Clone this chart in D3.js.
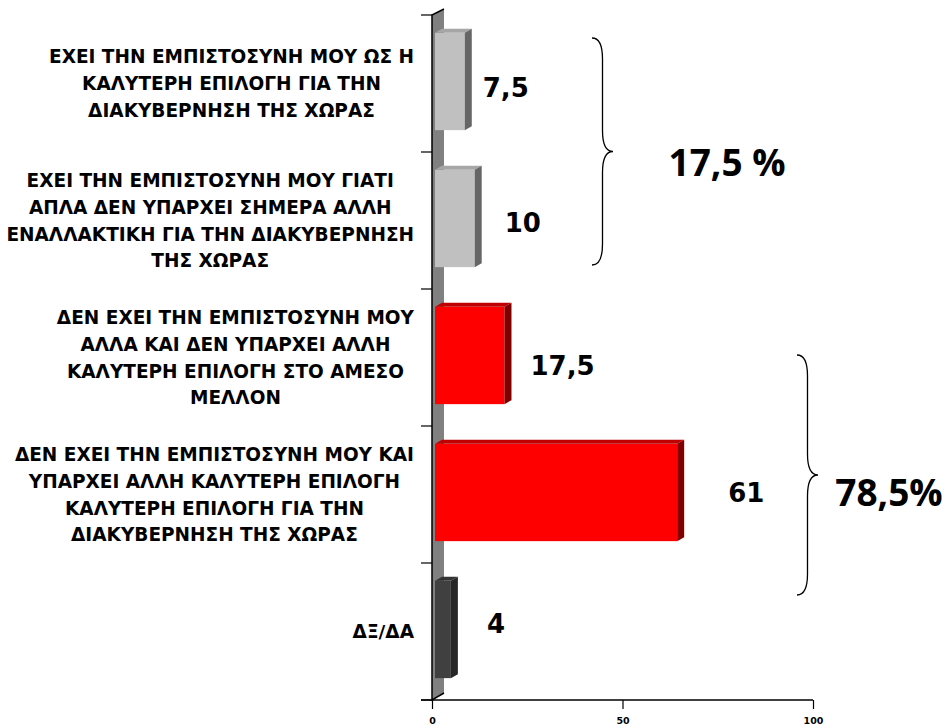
<!DOCTYPE html>
<html>
<head>
<meta charset="utf-8">
<script src="https://cdn.jsdelivr.net/npm/d3@7"></script>
<style>
  body { margin: 0; background: #fff; }
  svg { display: block; }
  .cat { font-family: "DejaVu Sans", Verdana, sans-serif; font-weight: bold; font-size: 18.5px; fill: #000; }
  .val { font-family: "DejaVu Sans", Verdana, sans-serif; font-weight: bold; font-size: 26px; fill: #000; }
  .tick-lbl { font-family: "DejaVu Sans", Verdana, sans-serif; font-weight: bold; font-size: 9.5px; fill: #000; }
  .grp { font-family: "Open Sans", "Liberation Sans", sans-serif; font-weight: 700; font-size: 37px; fill: #000; }
</style>
</head>
<body>
<div id="mount"></div>
<script>
// data
var categories = [
  ['ΕΧΕΙ ΤΗΝ ΕΜΠΙΣΤΟΣΥΝΗ ΜΟΥ ΩΣ Η', 'ΚΑΛΥΤΕΡΗ ΕΠΙΛΟΓΗ ΓΙΑ ΤΗΝ', 'ΔΙΑΚΥΒΕΡΝΗΣΗ ΤΗΣ ΧΩΡΑΣ'],
  ['ΕΧΕΙ ΤΗΝ ΕΜΠΙΣΤΟΣΥΝΗ ΜΟΥ ΓΙΑΤΙ', 'ΑΠΛΑ ΔΕΝ ΥΠΑΡΧΕΙ ΣΗΜΕΡΑ ΑΛΛΗ', 'ΕΝΑΛΛΑΚΤΙΚΗ ΓΙΑ ΤΗΝ ΔΙΑΚΥΒΕΡΝΗΣΗ', 'ΤΗΣ ΧΩΡΑΣ'],
  ['ΔΕΝ ΕΧΕΙ ΤΗΝ ΕΜΠΙΣΤΟΣΥΝΗ ΜΟΥ', 'ΑΛΛΑ ΚΑΙ ΔΕΝ ΥΠΑΡΧΕΙ ΑΛΛΗ', 'ΚΑΛΥΤΕΡΗ ΕΠΙΛΟΓΗ ΣΤΟ ΑΜΕΣΟ', 'ΜΕΛΛΟΝ'],
  ['ΔΕΝ ΕΧΕΙ ΤΗΝ ΕΜΠΙΣΤΟΣΥΝΗ ΜΟΥ ΚΑΙ', 'ΥΠΑΡΧΕΙ ΑΛΛΗ ΚΑΛΥΤΕΡΗ ΕΠΙΛΟΓΗ', 'ΚΑΛΥΤΕΡΗ ΕΠΙΛΟΓΗ ΓΙΑ ΤΗΝ', 'ΔΙΑΚΥΒΕΡΝΗΣΗ ΤΗΣ ΧΩΡΑΣ'],
  ['ΔΞ/ΔΑ']
];
var values = [7.5, 10, 17.5, 61, 4];
var kinds = ['yes', 'yes', 'no', 'no', 'dk'];
var xTicks = [0, 50, 100];
var groupLabels = ['17,5 %', '78,5%'];

// look
var faceColors = { yes: ['#c0c0c0', '#a6a6a6', '#666666'], no: ['#ff0000', '#c00000', '#800000'], dk: ['#404040', '#333333', '#262626'] };
var labelGap = [18, 30, 26, 51, 36];
var labelDy = [6, 4, 10, 0, -6];
var DX = 7, DY = 4;

var width = 945, height = 725;
var svg = d3.select('#mount').append('svg').attr('width', width).attr('height', height);

var ids = d3.range(categories.length);
var y = d3.scaleBand().domain(ids).range([15, 700]);
var yBar = d3.scaleBand().domain(ids).range([13, 698]).paddingInner(0.29).paddingOuter(0.145);
var xAxisScale = d3.scaleLinear().domain([0, 100]).range([432, 813]);
var xBar = d3.scaleLinear().domain([0, 100]).range([435, 832]);

// wall
var x0 = xAxisScale(0);
svg.append('path')
  .attr('d', 'M' + x0 + ',15 L' + (x0 + 12) + ',9 L' + (x0 + 12) + ',693 L' + x0 + ',700 Z')
  .attr('fill', '#808080');
svg.append('path')
  .attr('d', 'M' + (x0 + 12) + ',9 L' + x0 + ',15 L' + x0 + ',700 L' + (x0 + 12) + ',693')
  .attr('fill', 'none').attr('stroke', '#000').attr('stroke-width', 1.5);

// category ticks
var catTicks = ids.map(function (i) { return y(i); }).concat([700]);
svg.selectAll('.ctick').data(catTicks).enter().append('line')
  .attr('x1', x0 - 11).attr('x2', x0).attr('y1', function (d) { return d; }).attr('y2', function (d) { return d; })
  .attr('stroke', '#000').attr('stroke-width', 1.2);

// x axis
var xAxis = d3.axisBottom(xAxisScale).tickValues(xTicks).tickSize(9).tickPadding(8).tickFormat(d3.format('d'));
var gx = svg.append('g').attr('transform', 'translate(0,700)').call(xAxis);
gx.select('.domain').remove();
gx.selectAll('.tick line').attr('stroke', '#000').attr('stroke-width', 1.2);
gx.selectAll('.tick text').attr('class', 'tick-lbl').attr('fill', '#000');
svg.append('line').attr('x1', x0 - 11).attr('x2', xAxisScale(100)).attr('y1', 700).attr('y2', 700)
  .attr('stroke', '#000').attr('stroke-width', 1.5);

// bars
var bars = svg.selectAll('.bar').data(values).enter().append('g').attr('class', 'bar');
bars.each(function (v, i) {
  var g = d3.select(this);
  var a = xBar(0), b = xBar(v), t = yBar(i), h = yBar.bandwidth();
  var c = faceColors[kinds[i]];
  g.append('rect').attr('x', a).attr('y', t).attr('width', b - a).attr('height', h).attr('fill', c[0]);
  g.append('path').attr('d', 'M' + a + ',' + t + 'L' + (a + DX) + ',' + (t - DY) + 'L' + (b + DX) + ',' + (t - DY) + 'L' + b + ',' + t + 'Z').attr('fill', c[1]);
  g.append('path').attr('d', 'M' + b + ',' + t + 'L' + (b + DX) + ',' + (t - DY) + 'L' + (b + DX) + ',' + (t + h - DY) + 'L' + b + ',' + (t + h) + 'Z').attr('fill', c[2]);
});

// value labels
svg.selectAll('.val').data(values).enter().append('text')
  .attr('class', 'val')
  .attr('x', function (v, i) { return xBar(v) + labelGap[i]; })
  .attr('y', function (v, i) { return yBar(i) + yBar.bandwidth() / 2 + labelDy[i]; })
  .attr('dy', '0.36em')
  .text(function (v) { return String(v).replace('.', ','); });

// category labels: block right-aligned to the axis, lines centred in the block
var lineH = 26.8, labelRight = 414;
categories.forEach(function (lines, i) {
  var cy = y(i) + y.bandwidth() / 2;
  var texts = lines.map(function (ln, j) {
    return svg.append('text').attr('class', 'cat')
      .attr('y', cy + (j - (lines.length - 1) / 2) * lineH)
      .attr('dy', '0.36em')
      .attr('text-anchor', 'middle')
      .text(ln);
  });
  var wMax = d3.max(texts, function (t) { return t.node().getComputedTextLength(); });
  texts.forEach(function (t) { t.attr('x', labelRight - wMax / 2); });
});

// group braces
function brace(xl, top, bot, depth) {
  var mid = (top + bot) / 2, xm = xl + depth / 2, r = depth / 2;
  return 'M' + xl + ',' + top +
    'Q' + xm + ',' + top + ' ' + xm + ',' + (top + r * 2) +
    'L' + xm + ',' + (mid - r * 2) +
    'Q' + xm + ',' + mid + ' ' + (xl + depth) + ',' + mid +
    'Q' + xm + ',' + mid + ' ' + xm + ',' + (mid + r * 2) +
    'L' + xm + ',' + (bot - r * 2) +
    'Q' + xm + ',' + bot + ' ' + xl + ',' + bot;
}
var braceSpec = [
  { x: xAxisScale.invert(592), top: 38, bot: 265, tx: 727, ty: 163 },
  { x: xAxisScale.invert(797), top: 355, bot: 595, tx: 889, ty: 493 }
];
groupLabels.forEach(function (lbl, k) {
  var s = braceSpec[k];
  svg.append('path').attr('d', brace(xAxisScale(s.x), s.top, s.bot, 21))
    .attr('fill', 'none').attr('stroke', '#000').attr('stroke-width', 1.3);
  svg.append('text').attr('class', 'grp')
    .attr('x', s.tx).attr('y', s.ty).attr('dy', '0.36em').attr('text-anchor', 'middle')
    .text(lbl);
});
</script>
</body>
</html>
